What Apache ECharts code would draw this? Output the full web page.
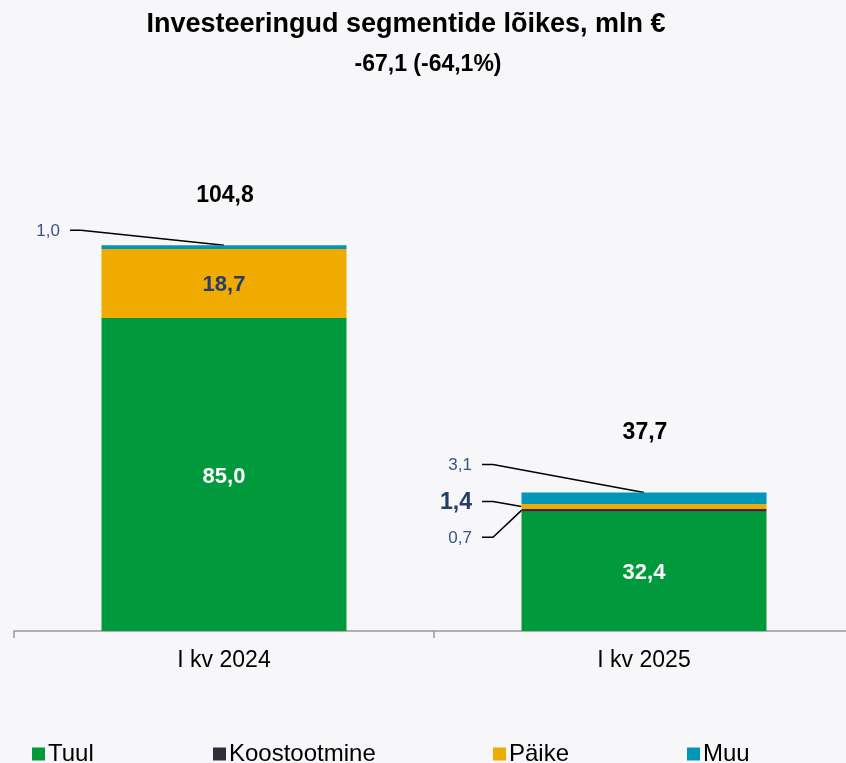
<!DOCTYPE html>
<html>
<head>
<meta charset="utf-8">
<script src="https://cdn.jsdelivr.net/npm/echarts@6/dist/echarts.min.js"></script>
<style>
  html, body { margin: 0; padding: 0; background: #f7f7f9; overflow: hidden; }
  #chart { width: 854px; height: 763px; }
</style>
</head>
<body>
<div id="chart"></div>
<script>
var categories = ['I kv 2024', 'I kv 2025'];
var tuul = [85.0, 32.4];
var koostootmine = [0, 0.7];
var paike = [18.7, 1.4];
var muu = [1.0, 3.1];
var totals = [104.8, 37.7];
var titleText = 'Investeeringud segmentide lõikes, mln €';
var subText = '-67,1 (-64,1%)';

var FONT = 'Liberation Sans, Arial, sans-serif';
var colors = { tuul: '#009a3d', koost: '#2e3039', paike: '#f0ab00', muu: '#0096b8' };

function fmt(v) { return v.toFixed(1).replace('.', ','); }

var chart = echarts.init(document.getElementById('chart'));

function legendItem(name, left) {
  return {
    data: [name], left: left, top: 737, itemWidth: 13, itemHeight: 13, itemGap: 0,
    icon: 'rect', selectedMode: false,
    textStyle: { fontFamily: FONT, fontSize: 24, color: '#000', padding: [0, 0, 0, -2] }
  };
}

var option = {
  backgroundColor: '#f7f7f9',
  animation: false,
  title: [
    { text: titleText, left: 401, top: 6, textAlign: 'center',
      textStyle: { fontFamily: FONT, fontSize: 27, fontWeight: 'bold', color: '#000' } },
    { text: subText, left: 423, top: 48, textAlign: 'center',
      textStyle: { fontFamily: FONT, fontSize: 23, fontWeight: 'bold', color: '#000' } }
  ],
  legend: [
    legendItem('Tuul', 27),
    legendItem('Koostootmine', 208),
    legendItem('Päike', 488),
    legendItem('Muu', 682)
  ],
  grid: { left: 14, right: 0, top: 189, bottom: 132 },
  xAxis: {
    type: 'category', data: categories,
    axisLine: { lineStyle: { color: '#999', width: 1.5 } },
    axisTick: { show: true, length: 7, lineStyle: { color: '#999', width: 1.5 } },
    axisLabel: { fontFamily: FONT, fontSize: 23, color: '#000', margin: 18 }
  },
  yAxis: { type: 'value', min: 0, max: 120, show: false, splitLine: { show: false } },
  series: [
    { name: 'Tuul', type: 'bar', stack: 's', data: tuul, barWidth: 245,
      itemStyle: { color: colors.tuul },
      label: { show: true, position: 'inside', formatter: function (p) { return fmt(p.value); },
        fontFamily: FONT, fontSize: 22, fontWeight: 'bold', color: '#fff', offset: [0, 2] } },
    { name: 'Koostootmine', type: 'bar', stack: 's', data: koostootmine,
      itemStyle: { color: colors.koost } },
    { name: 'Päike', type: 'bar', stack: 's', data: paike,
      itemStyle: { color: colors.paike },
      label: { show: true, position: 'inside',
        formatter: function (p) { return p.value > 5 ? fmt(p.value) : ''; },
        fontFamily: FONT, fontSize: 22, fontWeight: 'bold', color: '#263d6b', offset: [0, 1] } },
    { name: 'Muu', type: 'bar', stack: 's', data: muu,
      itemStyle: { color: colors.muu } }
  ]
};
chart.setOption(option);

// outside labels with leader lines, positioned from the chart's own scales
var halfBar = 245 / 2;
var callouts = [
  { idx: 0, top: tuul[0] + koostootmine[0] + paike[0] + muu[0], value: muu[0], at: 'center', dy: -15, textX: 60, bold: false },
  { idx: 1, top: tuul[1] + koostootmine[1] + paike[1] + muu[1], value: muu[1], at: 'center', dy: -28, textX: 472, bold: false },
  { idx: 1, top: tuul[1] + koostootmine[1] + paike[1] / 2, value: paike[1], at: 'left', dy: -5, textX: 472, bold: true },
  { idx: 1, top: tuul[1] + koostootmine[1] / 2, value: koostootmine[1], at: 'left', dy: 27, textX: 472, bold: false }
];

var graphics = [];
callouts.forEach(function (c) {
  var p = chart.convertToPixel({ gridIndex: 0 }, [c.idx, c.top]);
  var tx = c.at === 'center' ? p[0] : p[0] - halfBar;
  var ty = p[1];
  var ly = ty + c.dy;
  graphics.push({
    type: 'text',
    style: { text: fmt(c.value), x: c.textX, y: ly + 1, align: 'right', verticalAlign: 'middle',
      fontFamily: FONT, fontSize: c.bold ? 23 : 17, fontWeight: c.bold ? 'bold' : 'normal',
      fill: c.bold ? '#263d6b' : '#3b5285' }
  });
  graphics.push({
    type: 'polyline',
    shape: { points: [[c.textX + 10, ly], [c.textX + 21, ly], [tx, ty]] },
    style: { stroke: '#000', lineWidth: 1.5, fill: null }
  });
});
// totals above the bars
totals.forEach(function (t, i) {
  var p = chart.convertToPixel({ gridIndex: 0 }, [i, t]);
  graphics.push({
    type: 'text',
    style: { text: fmt(t), x: p[0] + 1, y: p[1] - (i === 0 ? 49 : 59), align: 'center', verticalAlign: 'middle',
      fontFamily: FONT, fontSize: 23, fontWeight: 'bold', fill: '#000' }
  });
});
chart.setOption({ graphic: graphics });
</script>
</body>
</html>
